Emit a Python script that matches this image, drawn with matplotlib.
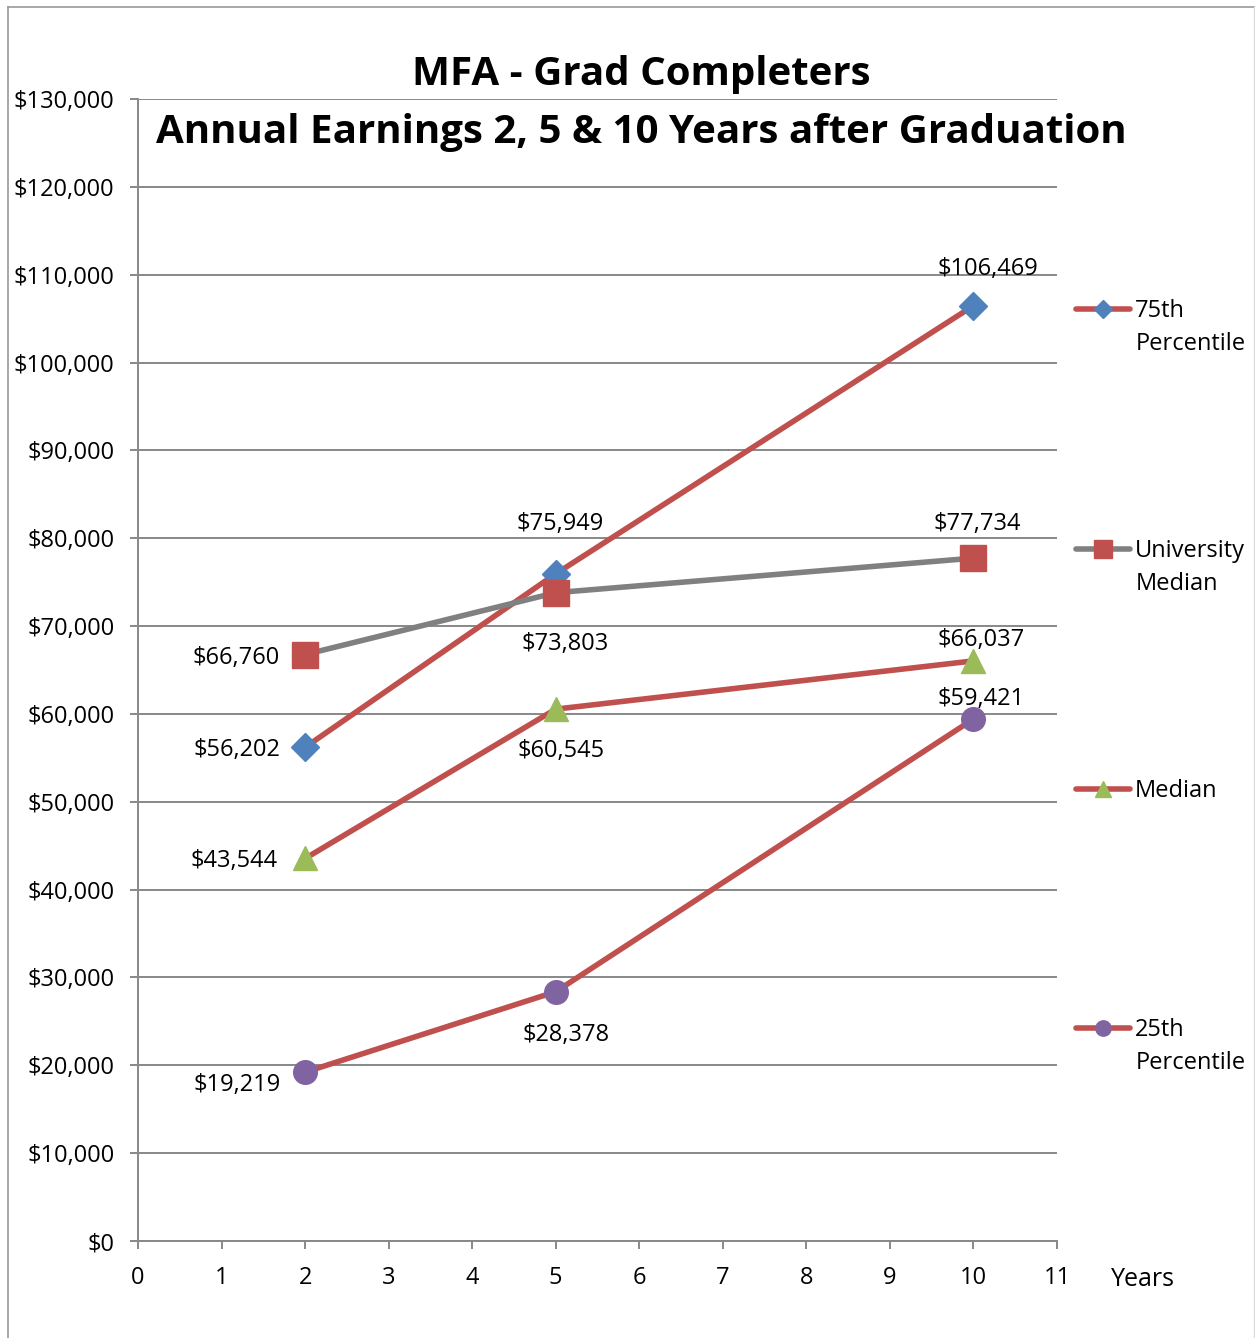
import matplotlib
matplotlib.use("Agg")
import matplotlib.pyplot as plt
from matplotlib.lines import Line2D
from matplotlib.ticker import FuncFormatter, MultipleLocator

plt.rcParams['font.family'] = ['Open Sans', 'DejaVu Sans']

# data
years = [2, 5, 10]
p75 = [56202, 75949, 106469]
univ_median = [66760, 73803, 77734]
median = [43544, 60545, 66037]
p25 = [19219, 28378, 59421]

series_names = ['75th\nPercentile', 'University\nMedian', 'Median', '25th\nPercentile']
series_values = [p75, univ_median, median, p25]

# styles
line_colors = ['#C0504D', '#808080', '#C0504D', '#C0504D']
marker_colors = ['#4F81BD', '#C0504D', '#9BBB59', '#8064A2']
markers = ['D', 's', '^', 'o']
marker_sizes = [14, 19, 17, 17]
# label offsets in pixels (dx, dy, ha) for x = 2, 5, 10
label_offsets = [
    [(-25, -3, 'right'), (4, 50, 'center'), (14, 37, 'center')],
    [(-25, -3, 'right'), (9, -51, 'center'), (4, 34, 'center')],
    [(-27, -3, 'right'), (5, -42, 'center'), (8, 21, 'center')],
    [(-24, -13, 'right'), (10, -43, 'center'), (8, 20, 'center')],
]
legend_y = [309, 549, 789, 1028]
FS = 17

W, H = 1255, 1338
fig = plt.figure(figsize=(W / 100, H / 100), dpi=100)
ax = fig.add_axes([138 / W, 1 - 1241 / H, (1057 - 138) / W, (1241 - 99) / H])

grid_col = '#888888'
ax.set_xlim(0, 11)
ax.set_ylim(0, 130000)
ax.xaxis.set_major_locator(MultipleLocator(1))
ax.yaxis.set_major_locator(MultipleLocator(10000))
ax.yaxis.set_major_formatter(FuncFormatter(lambda v, p: f'${v:,.0f}'))
ax.grid(axis='y', color=grid_col, linewidth=1.4)
ax.set_axisbelow(True)
for s in ['top', 'right']:
    ax.spines[s].set_visible(False)
for s in ['left', 'bottom']:
    ax.spines[s].set_color(grid_col)
    ax.spines[s].set_linewidth(1.4)
ax.tick_params(axis='both', colors=grid_col, length=6, width=1.4, direction='out',
               labelsize=FS, labelcolor='black')
ax.tick_params(axis='y', pad=11)
ax.tick_params(axis='x', pad=12)

for i, (name, vals) in enumerate(zip(series_names, series_values)):
    ax.plot(years, vals, color=line_colors[i], linewidth=4, marker=markers[i],
            markersize=marker_sizes[i], markerfacecolor=marker_colors[i],
            markeredgecolor=marker_colors[i], zorder=3 + i, clip_on=False)
    for x, v, (dx, dy, ha) in zip(years, vals, label_offsets[i]):
        ax.annotate(f'${v:,.0f}', (x, v), xytext=(dx, dy), textcoords='offset pixels',
                    ha=ha, va='center', fontsize=FS, zorder=10)

    # legend entry
    first, *rest = name.split('\n')
    h = Line2D([], [], color=line_colors[i], linewidth=4, marker=markers[i],
               markersize=marker_sizes[i] * 0.65, markerfacecolor=marker_colors[i],
               markeredgecolor=marker_colors[i], solid_capstyle='round')
    fig.legend([h], [first], loc='center left',
               bbox_to_anchor=(1076 / W, 1 - (legend_y[i] + 2) / H),
               frameon=False, fontsize=FS, handlelength=2.3, handletextpad=0.2,
               borderpad=0, borderaxespad=0)
    for line in rest:
        fig.text(1136 / W, 1 - (legend_y[i] + 35) / H, line, fontsize=FS,
                 ha='left', va='center')

fig.text(1143 / W, 1 - 1279 / H, 'Years', fontsize=18, ha='center', va='center')

fig.text(641 / W, 1 - 74 / H, 'MFA - Grad Completers', fontsize=29, fontweight='bold',
         ha='center', va='center')
fig.text(641 / W, 1 - 132 / H, 'Annual Earnings 2, 5 & 10 Years after Graduation',
         fontsize=29, fontweight='bold', ha='center', va='center')

# outer border
fig.add_artist(Line2D([8 / W, 8 / W], [0, 1 - 7 / H], transform=fig.transFigure,
                      color='#999999', linewidth=1.2))
fig.add_artist(Line2D([8 / W, 1254 / W], [1 - 7 / H, 1 - 7 / H], transform=fig.transFigure,
                      color='#999999', linewidth=1.2))
fig.add_artist(Line2D([1254 / W, 1254 / W], [0, 1 - 7 / H], transform=fig.transFigure,
                      color='#dddddd', linewidth=1.0))

fig.savefig('out.png', dpi=100)
